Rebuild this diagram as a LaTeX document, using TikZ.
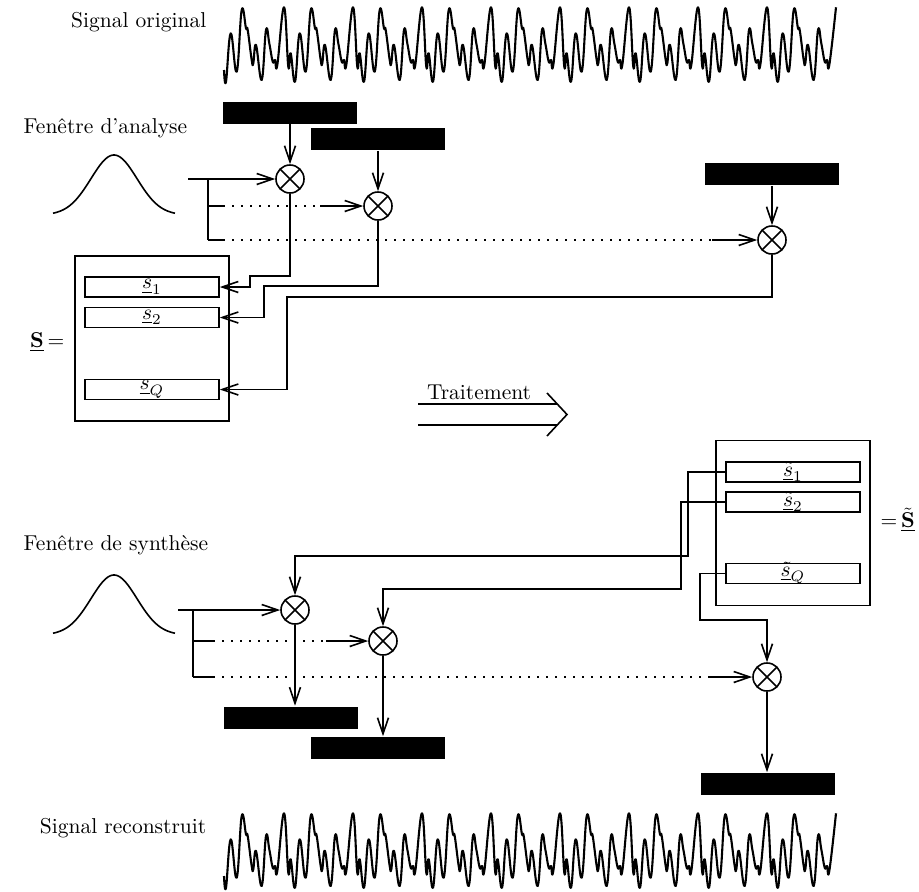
\documentclass[tikz,border=0pt]{standalone}
\usetikzlibrary{arrows.meta}
\begin{document}
\begin{tikzpicture}[x=1pt,y=-1pt,line width=1.6pt,
  arr/.style={-{Straight Barb[length=16pt,width=11pt]}},
  mult/.style={circle,draw,minimum size=28pt,inner sep=0pt,
    path picture={\draw (path picture bounding box.south west) -- (path picture bounding box.north east)
      (path picture bounding box.north west) -- (path picture bounding box.south east);}},
  bar/.style={fill=black,minimum width=134pt,minimum height=22pt,inner sep=0pt},
  box/.style={draw,minimum width=134pt,minimum height=20pt,inner sep=0pt},
  frame/.style={draw,minimum width=154pt,minimum height=165pt,inner sep=0pt},
  txt/.style={scale=2.15,inner sep=0pt},
  dot/.style={dash pattern=on 1.6pt off 7.4pt},
  sig/.style={line width=2.1pt,line join=round}]
\useasboundingbox (0,0) rectangle (919,892);

% ---------- signals ----------
\gdef\sigpts{(224,70)}
\foreach \k in {0,...,8}{
  \foreach \dx/\yy in {0/81.7,4.7/33.3,10.7/71.7,15.7/10,20/28.3,21.7/30,25.7/60,27.3/63.3,30/45,35.7/80,40/30,43.3/43.3,46.7/61.7,49/60,51.3/65,58/7.3,62.3/66.7,64.7/53.3}{
    \pgfmathsetmacro\xx{226+69*\k+\dx}
    \ifdim\xx pt<836.5pt \xdef\sigpts{\sigpts (\xx,\yy)}\fi
  }
}
\edef\drawsig{\noexpand\draw[sig] plot[smooth,tension=0.7] coordinates {\sigpts};}
\drawsig
\begin{scope}[shift={(0,806)}]
\drawsig
\end{scope}

% ---------- labels ----------
\node[txt,anchor=east] (lo) at (208,22) {Signal original};
\node[txt,anchor=west] (la) at (22,128) {Fenêtre d’analyse};
\node[txt,anchor=west] (ls) at (22,545) {Fenêtre de synthèse};
\node[txt,anchor=east] (lr) at (208,828) {Signal reconstruit};
\node[txt,anchor=east] (lS) at (66,342) {$\underline{\mathbf{S}}\,{=}$};
\node[txt,anchor=west] (lSt) at (879,520) {${=}\,\underline{\tilde{\mathbf{S}}}$};

% ---------- windows ----------
\draw plot[domain=-61:61,samples=80,smooth] ({114+\x},{215-60*exp(-0.5*(\x*\x)/529)});
\draw plot[domain=-61:61,samples=80,smooth] ({114+\x},{635-60*exp(-0.5*(\x*\x)/529)});

% ---------- analysis ----------
\node[bar] (b1) at (290,112.5) {};
\node[bar] (b2) at (378,139) {};
\node[bar] (b3) at (772,174) {};
\node[mult] (m1) at (290,179) {};
\node[mult] (m2) at (378,206) {};
\node[mult] (m3) at (772,240) {};
\draw[arr] (b1) -- (m1);
\draw[arr] (b2) -- (m2);
\draw[arr] (b3) -- (m3);

\coordinate (in1) at (188,179);
\coordinate (j1) at (208,179);
\coordinate (j2) at (208,206);
\coordinate (j3) at (208,240);
\draw[arr] (in1) -- (m1);
\draw (j1) -- (j3);
\coordinate (d2a) at (223,206); \coordinate (d2b) at (320,206);
\draw (j2) -- (d2a); \draw[dot] (d2a) -- (d2b); \draw[arr] (d2b) -- (m2);
\coordinate (d3a) at (223,240); \coordinate (d3b) at (712,240);
\draw (j3) -- (d3a); \draw[dot] (d3a) -- (d3b); \draw[arr] (d3b) -- (m3);

\node[frame] (S) at (152,338.5) {};
\node[box,label={[txt]center:$\underline{s}_1$}] (s1) at (152,287) {};
\node[box,label={[txt]center:$\underline{s}_2$}] (s2) at (152,317.5) {};
\node[box,label={[txt]center:$\underline{s}_Q$}] (sQ) at (152,389.5) {};
\draw[arr] (m1.south) |- (250,276) |- (s1.east);
\draw[arr] (m2.south) |- (264,286) |- (s2.east);
\draw[arr] (m3.south) |- (287,297) |- (sQ.east);

% ---------- processing arrow ----------
\node[txt] (tr) at (479,392) {Traitement};
\coordinate (ta1) at (418,404); \coordinate (ta2) at (557,404);
\coordinate (tb1) at (418,425); \coordinate (tb2) at (557,425);
\coordinate (tc1) at (547,393); \coordinate (tc2) at (567,414.5); \coordinate (tc3) at (547,436);
\draw (ta1) -- (ta2);
\draw (tb1) -- (tb2);
\draw[line join=miter] (tc1) -- (tc2) -- (tc3);

% ---------- synthesis ----------
\node[frame] (St) at (793,523) {};
\node[box,label={[txt]center:$\underline{\tilde{s}}_1$}] (t1) at (793,472) {};
\node[box,label={[txt]center:$\underline{\tilde{s}}_2$}] (t2) at (793,502) {};
\node[box,label={[txt]center:$\underline{\tilde{s}}_Q$}] (tQ) at (793,573.5) {};
\node[mult] (m4) at (295,610) {};
\node[mult] (m5) at (383,641) {};
\node[mult] (m6) at (767,677) {};
\node[bar] (b4) at (290.5,717.5) {};
\node[bar] (b5) at (377.5,748) {};
\node[bar] (b6) at (767.5,784) {};
\draw[arr] (t1.west) -| (688,556) -| (m4.north);
\draw[arr] (t2.west) -| (681,589) -| (m5.north);
\draw[arr] (tQ.west) -| (700,620) -| (m6.north);
\draw[arr] (m4.south) -- (m4.south |- b4.north);
\draw[arr] (m5.south) -- (m5.south |- b5.north);
\draw[arr] (m6.south) -- (m6.south |- b6.north);

\coordinate (in2) at (178,610);
\coordinate (j4) at (193,610);
\coordinate (j5) at (193,641);
\coordinate (j6) at (193,677);
\draw[arr] (in2) -- (m4);
\draw (j4) -- (j6);
\coordinate (d5a) at (213,641); \coordinate (d5b) at (326,641);
\draw (j5) -- (d5a); \draw[dot] (d5a) -- (d5b); \draw[arr] (d5b) -- (m5);
\coordinate (d6a) at (213,677); \coordinate (d6b) at (710,677);
\draw (j6) -- (d6a); \draw[dot] (d6a) -- (d6b); \draw[arr] (d6b) -- (m6);
\end{tikzpicture}
\end{document}
